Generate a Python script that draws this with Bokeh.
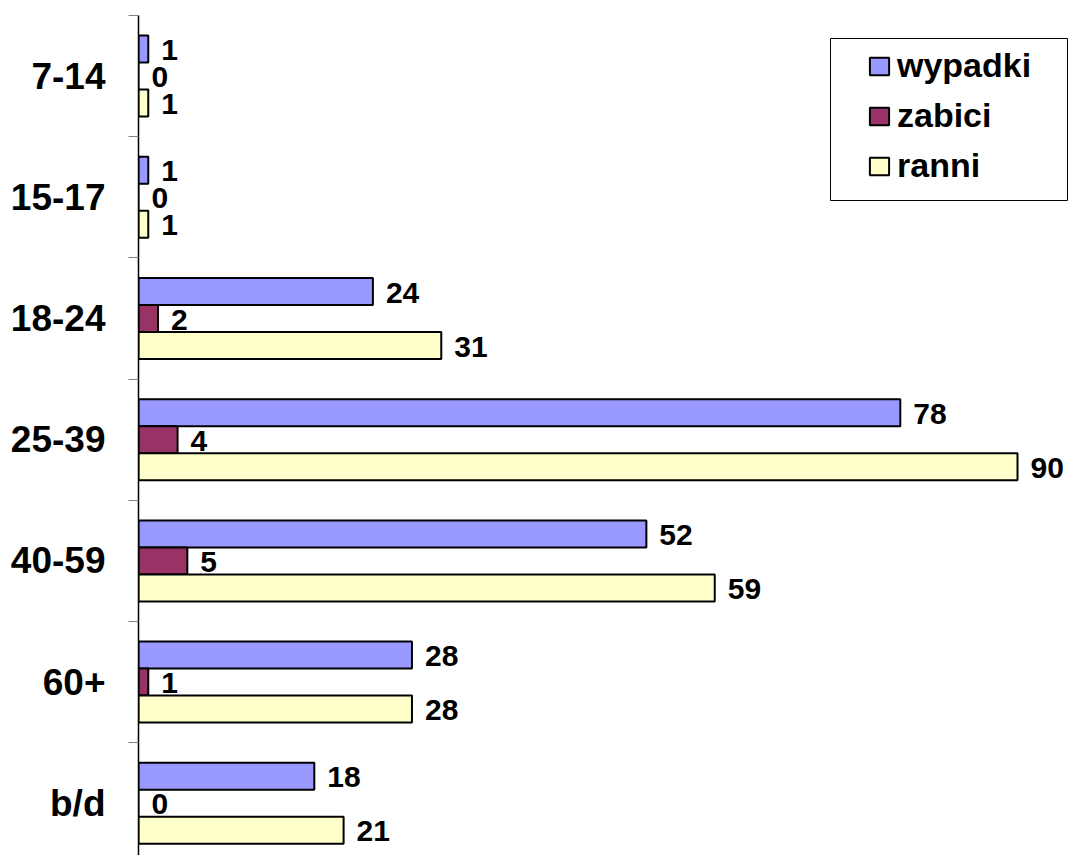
from bokeh.plotting import figure
from bokeh.models import ColumnDataSource, Range1d, FixedTicker, Legend, LegendItem, BoxAnnotation
from bokeh.transform import dodge
from bokeh.core.properties import value
from bokeh.embed import file_html
from bokeh.resources import INLINE

# ---- data ----
categories = ["7-14", "15-17", "18-24", "25-39", "40-59", "60+", "b/d"]
wypadki = [1, 1, 24, 78, 52, 28, 18]
zabici = [0, 0, 2, 4, 5, 1, 0]
ranni = [1, 1, 31, 90, 59, 28, 21]
series_names = ["wypadki", "zabici", "ranni"]
series_colors = ["#9999FF", "#993366", "#FFFFCC"]

# ---- layout constants (pixels) ----
FIG_W, FIG_H = 1070, 855
BORDER_L, BORDER_T = 138, 15
FRAME_W = FIG_W - BORDER_L
FRAME_H = FIG_H - BORDER_T
AXIS_X = BORDER_L              # page x of the value axis
TOP_Y = BORDER_T               # page y of the frame top
PX_X = 879 / 90.0              # pixels per unit on x
PX_Y = 121.2                   # pixels per category band
BAR_H = 27 / PX_Y
FONT = "Liberation Sans"

pos = list(range(1, len(categories) + 1))
data = dict(y=pos, cat=categories, wypadki=wypadki, zabici=zabici, ranni=ranni)
for n, vals in zip(series_names, [wypadki, zabici, ranni]):
    data[n + "_lbl"] = [str(v) for v in vals]
src = ColumnDataSource(data)

p = figure(width=FIG_W, height=FIG_H,
           x_range=Range1d(0, FRAME_W / PX_X),
           y_range=Range1d(0.5 + FRAME_H / PX_Y, 0.5),
           x_axis_location=None,
           output_backend="svg", toolbar_location=None,
           min_border_top=BORDER_T, min_border_bottom=0,
           min_border_left=BORDER_L, min_border_right=0)
p.xgrid.visible = False
p.ygrid.visible = False
p.outline_line_color = None
p.background_fill_color = "white"
p.border_fill_color = "white"

offsets = [-BAR_H, 0.0, BAR_H]
renderers = []
for name, col, off in zip(series_names, series_colors, offsets):
    r = p.hbar(y=dodge("y", off, range=p.y_range), left=0, right=name, height=BAR_H,
               fill_color=col, line_color="black", line_width=2, source=src)
    renderers.append(r)
    p.text(x=name, y=dodge("y", off, range=p.y_range), text=name + "_lbl",
           x_offset=13, y_offset=1, text_baseline="middle", text_align="left",
           text_font=value(FONT), text_font_style="bold", text_font_size="30px",
           text_color="black", source=src)

ax = p.yaxis[0]
ax.ticker = FixedTicker(ticks=pos, minor_ticks=[i + 0.5 for i in range(0, len(categories) + 1)])
ax.major_label_overrides = {i: c for i, c in zip(pos, categories)}
ax.major_tick_out = 0
ax.major_tick_in = 0
ax.major_tick_line_color = None
ax.minor_tick_out = 10
ax.minor_tick_in = 0
ax.minor_tick_line_color = "#808080"
ax.minor_tick_line_width = 1
ax.axis_line_color = "black"
ax.axis_line_width = 1.5
ax.major_label_standoff = 23
ax.major_label_text_font = FONT
ax.major_label_text_font_style = "bold"
ax.major_label_text_font_size = "37px"
ax.major_label_text_color = "black"

# legend frame (page px -> data units)
box = BoxAnnotation(left=(830 - AXIS_X) / PX_X, right=(1067 - AXIS_X) / PX_X,
                    top=0.5 + (38 - TOP_Y) / PX_Y, bottom=0.5 + (200 - TOP_Y) / PX_Y,
                    fill_color="white", fill_alpha=1.0,
                    line_color="black", line_width=1, line_alpha=1.0)
p.add_layout(box)

legend = Legend(items=[LegendItem(label=n, renderers=[r]) for n, r in zip(series_names, renderers)],
                location=(729, 670), padding=0, margin=0, spacing=11,
                glyph_width=24, glyph_height=22, label_standoff=6,
                label_text_font=FONT, label_text_font_style="bold",
                label_text_font_size="34px", label_text_color="black",
                border_line_color=None, background_fill_alpha=0)
p.add_layout(legend)

open("out.html", "w").write(file_html(p, INLINE))
